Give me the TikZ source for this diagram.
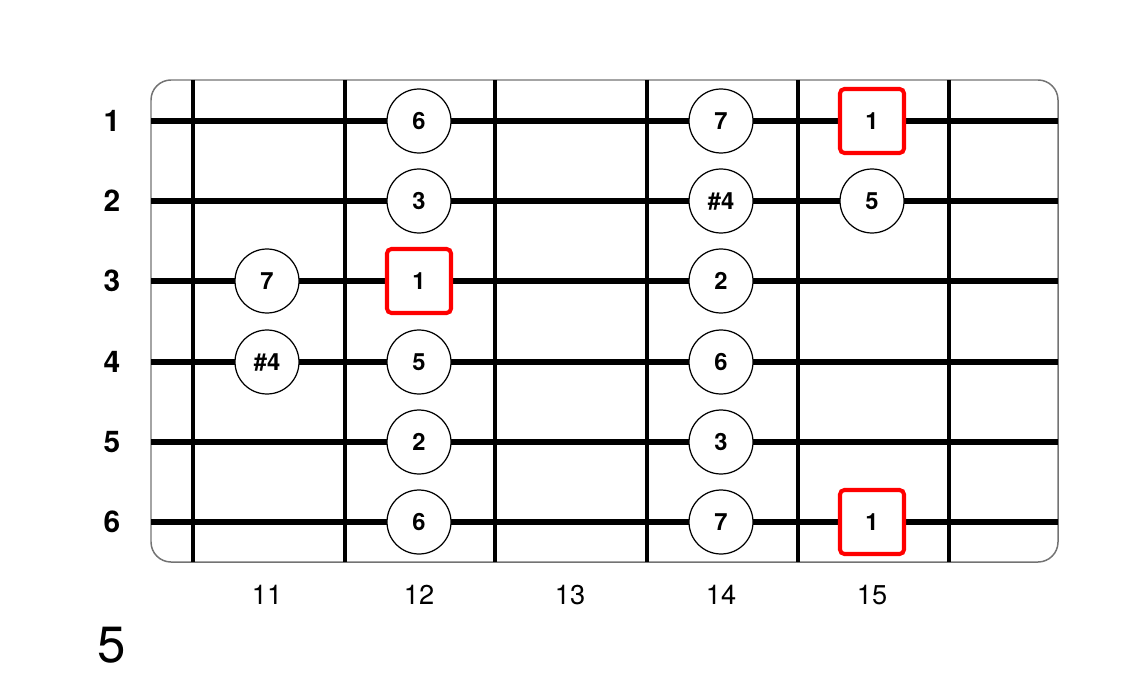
\documentclass[tikz,border=0pt]{standalone}
\usepackage{fontspec}
\setmainfont{TeX Gyre Heros}

\begin{document}
\begin{tikzpicture}[x=0.02cm,y=-0.02cm,
    note/.style={circle,draw,line width=0.7pt,fill=white,minimum size=1.28cm,inner sep=0pt,
        font=\fontsize{13.5}{15}\selectfont\bfseries},
    root/.style={rectangle,draw=red,line width=2.3pt,rounded corners=2.5pt,fill=white,
        minimum size=1.28cm,inner sep=0pt,font=\fontsize{13.5}{15}\selectfont\bfseries},
    stringlabel/.style={font=\fontsize{17}{19}\selectfont\bfseries},
    fretlabel/.style={font=\fontsize{15.5}{17}\selectfont}]

\useasboundingbox (0,0) rectangle (1132,682);

% board
\draw [black!55, line width=0.85pt, rounded corners=0.4cm] (151,80) rectangle (1058,562);

\foreach \s/\y in {1/121,2/201,3/281,4/362,5/442,6/522}
{
    \coordinate (s\s) at (151,\y);
    \draw [line width=3pt] (s\s) -- (1058,\y);
    \node [stringlabel] (l\s) at (112,\y) {\s};
}

\foreach \x in {193,345,495,647,798,949}
    \draw [line width=1.9pt] (\x,80) -- (\x,562);

\foreach \f/\x in {11/267,12/419,13/570,14/721,15/872}
    \node [fretlabel] (f\f) at (\x,595) {\f};

% notes
\foreach \f/\s/\t in {11/3/7,11/4/{\#4},
                      12/1/6,12/2/3,12/4/5,12/5/2,12/6/6,
                      14/1/7,14/2/{\#4},14/3/2,14/4/6,14/5/3,14/6/7,
                      15/2/5}
    \node [note] (n\f-\s) at (f\f |- s\s) {\t};

\foreach \f/\s in {12/3,15/1,15/6}
    \node [root] (r\f-\s) at (f\f |- s\s) {1};

\node [font=\fontsize{29}{32}\selectfont] (pos) at (112,645) {5};

\end{tikzpicture}
\end{document}
